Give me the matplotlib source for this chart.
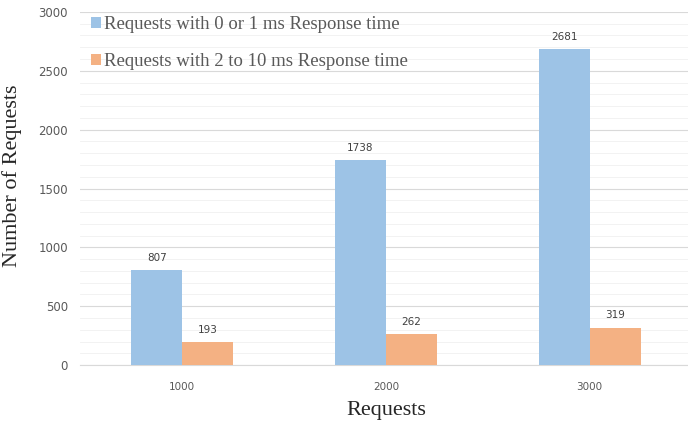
import numpy as np
import matplotlib.pyplot as plt
from matplotlib.ticker import MultipleLocator

# ----- Data -----
categories = ["1000", "2000", "3000"]
fast_counts = [807, 1738, 2681]   # 0 or 1 ms
slow_counts = [193, 262, 319]     # 2 to 10 ms
series_names = ["Requests with 0 or 1 ms Response time",
                "Requests with 2 to 10 ms Response time"]

blue = "#9DC3E6"
orange = "#F4B183"

fig = plt.figure(figsize=(6.88, 4.26), dpi=100)
ax = fig.add_axes([0.117, 0.143, 0.888, 0.829])

x = np.arange(len(categories))
w = 0.25
b1 = ax.bar(x - w / 2, fast_counts, w, color=blue, label=series_names[0], zorder=3)
b2 = ax.bar(x + w / 2, slow_counts, w, color=orange, label=series_names[1], zorder=3)

for bars in (b1, b2):
    for r in bars:
        ax.text(r.get_x() + r.get_width() / 2, r.get_height() + 60, f"{int(r.get_height())}",
                ha="center", va="bottom", fontsize=7.5, color="#404040")

ax.set_xlim(-0.5, 2.5)
ax.set_ylim(0, 3000)
ax.set_xticks(x)
ax.set_xticklabels(categories)
ax.yaxis.set_major_locator(MultipleLocator(500))
ax.yaxis.set_minor_locator(MultipleLocator(100))
ax.grid(axis="y", which="major", color="#D9D9D9", lw=0.8, zorder=0)
ax.grid(axis="y", which="minor", color="#F0F0F0", lw=0.6, zorder=0)
ax.tick_params(axis="both", which="both", length=0, labelcolor="#595959")
ax.tick_params(axis="x", pad=12, labelsize=7.5)
ax.tick_params(axis="y", pad=9, labelsize=8.5)
for s in ["top", "right", "left"]:
    ax.spines[s].set_visible(False)
ax.spines["bottom"].set_color("#D9D9D9")

ax.set_xlabel("Requests", fontfamily="Liberation Serif", fontsize=16, color="#262626", labelpad=7)
ax.set_ylabel("Number of Requests", fontfamily="Liberation Serif", fontsize=16, color="#262626", labelpad=6)
ax.yaxis.set_label_coords(-0.095, 0.535)

ax.legend(loc="upper left", bbox_to_anchor=(-0.01, 1.035), frameon=False,
          prop={"family": "Liberation Serif", "size": 13.5}, labelcolor="#595959",
          handlelength=0.5, handleheight=0.5, handletextpad=0.2, labelspacing=1.05)

fig.savefig("out.png", dpi=100)
